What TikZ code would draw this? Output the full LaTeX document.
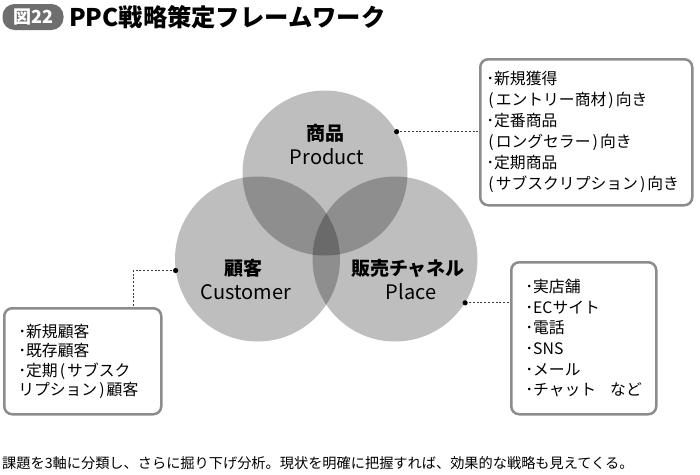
\documentclass[tikz,border=0pt]{standalone}
\usepackage{fontspec}
\setmainfont{Noto Sans CJK JP}
\definecolor{boxline}{HTML}{8C8C8C}
\definecolor{badgegray}{HTML}{6E6E6E}
\definecolor{dotline}{HTML}{3C3C3C}
\newcommand{\myLP}{\makebox[9.5pt]{(}}
\newcommand{\myRP}{\makebox[9.5pt]{)}}
\begin{document}
\begin{tikzpicture}[x=1pt,y=-1pt,
  venn/.style={circle, minimum size=165pt, inner sep=0pt, fill=black, fill opacity=0.255},
  jlab/.style={font=\bfseries\fontsize{19}{22}\selectfont},
  elab/.style={font=\fontsize{20}{22}\selectfont},
  infobox/.style={draw=boxline, line width=2.5pt, rounded corners=8pt, anchor=north west,
    align=left, inner ysep=0pt, font=\fontsize{15.8}{21}\selectfont},
  conn/.style={draw=dotline, line width=0.9pt, dash pattern=on 2pt off 1.8pt},
  dotmark/.style={fill=black}
]
\useasboundingbox (0,0) rectangle (700,474);

% title
\node[fill=badgegray, rounded corners=12pt, minimum width=61pt, minimum height=26pt,
  inner sep=0pt, text=white, font=\bfseries\fontsize{18}{20}\selectfont] (badge) at (33,17) {図22};
\node[anchor=west, inner sep=0pt, font=\bfseries\fontsize{24.3}{27}\selectfont] (title) at (69,17) {PPC戦略策定フレームワーク};

% circles
\node[venn] (prod) at (325,173) {};
\node[venn] (cust) at (257.5,259) {};
\node[venn] (place) at (395,259) {};

\node[jlab] (prodj) at (325,133) {商品};
\node[elab] (prode) at (327,157) {Product};
\node[jlab] (custj) at (243,268) {顧客};
\node[elab] (custe) at (246,292) {Customer};
\node[jlab] (placej) at (408,268) {販売チャネル};
\node[elab] (placee) at (411,292) {Place};

% boxes
\node[infobox, text width=200pt, inner xsep=6pt, minimum height=146pt] (pbox) at (479,58)
 {･新規獲得\\\myLP エントリー商材\myRP 向き\\･定番商品\\\myLP ロングセラー\myRP 向き\\･定期商品\\\myLP サブスクリプション\myRP 向き};
\node[infobox, text width=129pt, inner xsep=8pt, minimum height=152pt,
  font=\fontsize{15.8}{20.6}\selectfont] (lbox) at (510,261)
 {\hspace*{6pt}･実店舗\\\hspace*{6pt}･ECサイト\\\hspace*{6pt}･電話\\\hspace*{6pt}･SNS\\\hspace*{6pt}･メール\\\hspace*{6pt}･チャット\hspace{14pt}など};
\node[infobox, text width=141pt, inner xsep=8pt, minimum height=106pt,
  font=\fontsize{15.8}{19.5}\selectfont] (cbox) at (3,307)
 {\hspace*{6pt}･新規顧客\\\hspace*{6pt}･既存顧客\\\hspace*{6pt}･定期\myLP サブスク\\\hspace*{6pt}リプション\myRP 顧客};

% connectors
\coordinate (pdot) at (prod.30);
\coordinate (cdot) at (cust.188);
\coordinate (ldot) at (place.-32);
\coordinate (ccorner) at (133,0);
\draw[conn] (pdot) -- (pdot -| pbox.west);
\draw[conn] (ldot) -- (ldot -| lbox.west);
\draw[conn] (cdot) -- (cdot -| ccorner) -- (ccorner |- cbox.north);
\fill[dotmark] (pdot) circle (2.6pt);
\fill[dotmark] (ldot) circle (2.6pt);
\fill[dotmark] (cdot) circle (2.6pt);

% caption
\node[anchor=west, inner sep=0pt, font=\fontsize{14.2}{16}\selectfont] (cap) at (2,463)
 {課題を3軸に分類し、さらに掘り下げ分析。現状を明確に把握すれば、効果的な戦略も見えてくる。};
\end{tikzpicture}
\end{document}
